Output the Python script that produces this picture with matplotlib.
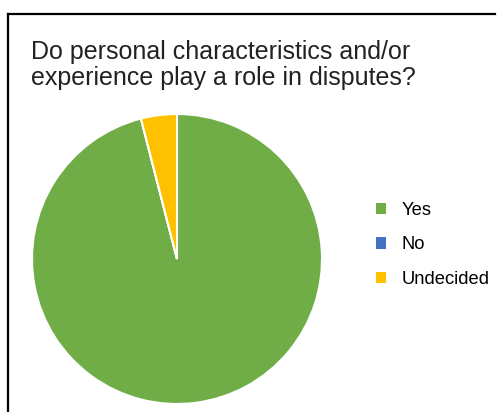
import matplotlib
matplotlib.use('Agg')
import matplotlib.pyplot as plt
from matplotlib.lines import Line2D
from matplotlib.patches import Patch

plt.rcParams['font.family'] = ['Liberation Sans', 'DejaVu Sans']

# Survey responses
labels = ['Yes', 'No', 'Undecided']
counts = [24, 0, 1]
colors = ['#70AD47', '#4472C4', '#FFC000']
title = 'Do personal characteristics and/or\nexperience play a role in disputes?'

W, H = 497, 412
fig = plt.figure(figsize=(W / 100, H / 100), dpi=100)
fig.patch.set_facecolor('white')

# Frame lines along the top and left side
fig.add_artist(Line2D([7.5 / W, 495 / W], [1 - 14 / H, 1 - 14 / H],
                      transform=fig.transFigure, color='black', lw=1.6))
fig.add_artist(Line2D([7.5 / W, 7.5 / W], [0, 1 - 14 / H],
                      transform=fig.transFigure, color='black', lw=1.6))

# multiline baseline alignment goes by the last line
fig.text(31 / W, 1 - 85 / H, title, fontsize=18, color='#222222',
         ha='left', va='baseline', linespacing=1.12)

# Pie axes: centre (177, 259) px, radius 145 px
r = 145
cx, cy = 177, 259
ax = fig.add_axes([(cx - r) / W, (H - cy - r) / H, 2 * r / W, 2 * r / H])
ax.pie(counts, colors=colors, startangle=90, counterclock=False,
       wedgeprops=dict(edgecolor='white', linewidth=1.5))
ax.set_xlim(-1, 1)
ax.set_ylim(-1, 1)
ax.set_aspect('equal')
ax.axis('off')

handles = [Patch(facecolor=c, edgecolor='none') for c in colors]
fig.legend(handles, labels, loc='center left', bbox_to_anchor=(359 / W, 1 - 245 / H),
           frameon=False, fontsize=13.2, handlelength=0.55, handleheight=0.55,
           handletextpad=0.85, labelspacing=0.95)

fig.savefig('out.png', dpi=100)
